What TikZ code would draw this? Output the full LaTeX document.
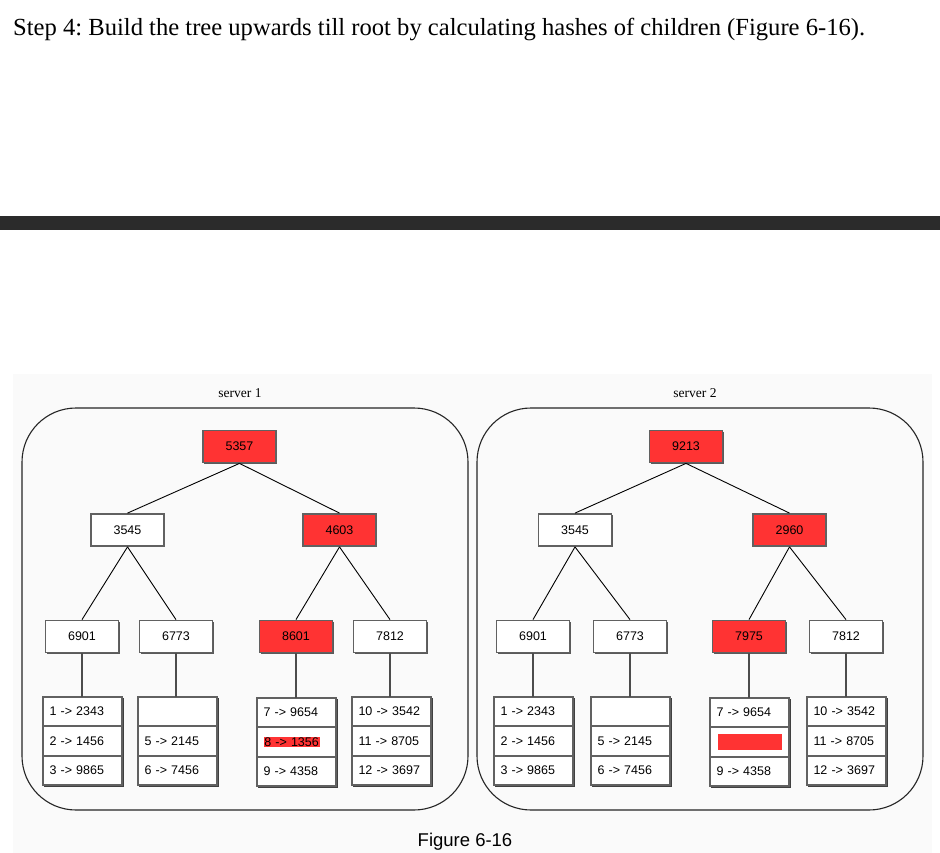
\documentclass[tikz,border=0pt]{standalone}
\usepackage{fontspec}
\setmainfont{Liberation Serif}
\setsansfont{Liberation Sans}
\usetikzlibrary{shadows}
\frenchspacing
\definecolor{hl}{RGB}{255,51,51}
\definecolor{bg}{RGB}{250,250,250}
\definecolor{bar}{RGB}{43,43,43}
\tikzset{
  hnode/.style={rectangle, draw=black!62, line width=1.8pt, fill=white,
    minimum width=73pt, minimum height=32pt, inner sep=0pt,
    font=\sffamily\fontsize{12.5}{13}\selectfont,
    drop shadow={shadow xshift=1pt, shadow yshift=-1pt, opacity=0.8, fill=black!80}},
  redn/.style={fill=hl},
  leafrow/.style={rectangle, draw=black!62, line width=1.8pt, fill=white, outer sep=0pt,
    minimum width=79pt, minimum height=29.3pt, inner ysep=0pt, inner xsep=6pt,
    text width=66pt, align=left,
    font=\sffamily\fontsize{12.5}{13}\selectfont},
  edge/.style={draw=black, line width=0.9pt},
  vconn/.style={draw=black!70, line width=1.3pt},
  server/.style={draw=black!85, line width=1.1pt, rounded corners=54pt},
  slabel/.style={font=\fontsize{13.5}{14}\selectfont},
}
\newcommand{\leaftab}[6]{%
  \node[leafrow, anchor=north west] (#1-1) at (#2,#3) {#4};
  \node[leafrow, anchor=north] (#1-2) at (#1-1.south) {#5};
  \node[leafrow, anchor=north] (#1-3) at (#1-2.south) {#6};
  \draw[draw=black!75, line width=1pt] ([xshift=1.2pt,yshift=-1.4pt]#1-3.south west) -- ([xshift=1.4pt,yshift=-1.4pt]#1-3.south east) -- ([xshift=1.4pt,yshift=-1.2pt]#1-1.north east);
}
\begin{document}
\begin{tikzpicture}[x=1pt,y=-1pt]
\useasboundingbox (0,0) rectangle (940,853);
\fill[white] (0,0) rectangle (940,853);
% heading
\node[anchor=base west, inner sep=0pt, font=\fontsize{24.6}{26}\selectfont] (head) at (13,36)
  {Step 4: Build the tree upwards till root by calculating hashes of children (Figure 6-16).};
\fill[bar] (0,216) rectangle (940,230);
% figure background
\fill[bg] (13,374) rectangle (932,853);
% servers
\draw[server] (22,408) rectangle (468,810);
\draw[server] (477,408) rectangle (923,810);
\node[slabel] (s1lab) at (240,393) {server 1};
\node[slabel] (s2lab) at (695,393) {server 2};
% ---------- server 1 ----------
\node[hnode, redn] (a0) at (239.5,446.5) {5357};
\node[hnode] (a1) at (127.5,530) {3545};
\node[hnode, redn] (a2) at (339.5,530) {4603};
\node[hnode] (a3) at (82,636.5) {6901};
\node[hnode] (a4) at (176,636.5) {6773};
\node[hnode, redn] (a5) at (296,636.5) {8601};
\node[hnode] (a6) at (390,636.5) {7812};
\leaftab{at1}{43}{697}{1 -> 2343}{2 -> 1456}{3 -> 9865}
\leaftab{at2}{138}{697}{}{5 -> 2145}{6 -> 7456}
\leaftab{at3}{257}{698}{7 -> 9654}{\setlength{\fboxsep}{0.8pt}\colorbox{hl}{8 -> 1356}}{9 -> 4358}
\leaftab{at4}{352}{697}{10 -> 3542}{11 -> 8705}{12 -> 3697}
\draw[edge] (a0.south) -- (a1.north);
\draw[edge] (a0.south) -- (a2.north);
\draw[edge] (a1.south) -- (a3.north);
\draw[edge] (a1.south) -- (a4.north);
\draw[edge] (a2.south) -- (a5.north);
\draw[edge] (a2.south) -- (a6.north);
\draw[vconn] (a3.south) -- (a3.south |- at1-1.north);
\draw[vconn] (a4.south) -- (a4.south |- at2-1.north);
\draw[vconn] (a5.south) -- (a5.south |- at3-1.north);
\draw[vconn] (a6.south) -- (a6.south |- at4-1.north);
% ---------- server 2 ----------
\node[hnode, redn] (b0) at (686,446.5) {9213};
\node[hnode] (b1) at (575,530) {3545};
\node[hnode, redn] (b2) at (789.5,530) {2960};
\node[hnode] (b3) at (533,636.5) {6901};
\node[hnode] (b4) at (630,636.5) {6773};
\node[hnode, redn] (b5) at (749,636.5) {7975};
\node[hnode] (b6) at (846,636.5) {7812};
\leaftab{bt1}{494}{697}{1 -> 2343}{2 -> 1456}{3 -> 9865}
\leaftab{bt2}{591}{697}{}{5 -> 2145}{6 -> 7456}
\leaftab{bt3}{710}{698}{7 -> 9654}{}{9 -> 4358}
\leaftab{bt4}{807}{697}{10 -> 3542}{11 -> 8705}{12 -> 3697}
\node[fill=hl, minimum width=64pt, minimum height=16pt, inner sep=0pt] (redbar) at (bt3-2.center) {};
\draw[edge] (b0.south) -- (b1.north);
\draw[edge] (b0.south) -- (b2.north);
\draw[edge] (b1.south) -- (b3.north);
\draw[edge] (b1.south) -- (b4.north);
\draw[edge] (b2.south) -- (b5.north);
\draw[edge] (b2.south) -- (b6.north);
\draw[vconn] (b3.south) -- (b3.south |- bt1-1.north);
\draw[vconn] (b4.south) -- (b4.south |- bt2-1.north);
\draw[vconn] (b5.south) -- (b5.south |- bt3-1.north);
\draw[vconn] (b6.south) -- (b6.south |- bt4-1.north);
% caption
\node[font=\sffamily\fontsize{18.5}{20}\selectfont] (cap) at (465,842) {Figure 6-16};
\end{tikzpicture}
\end{document}
